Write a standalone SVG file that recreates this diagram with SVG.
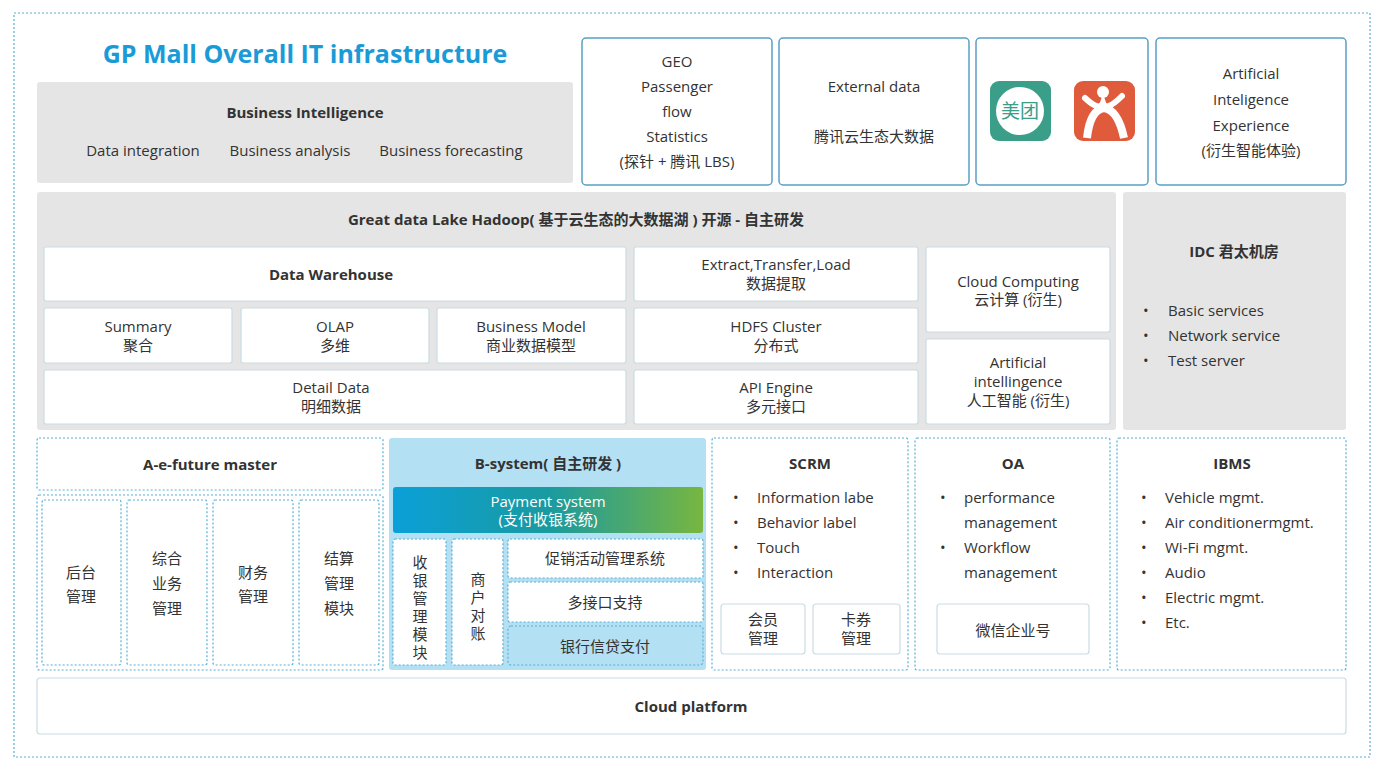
<svg xmlns="http://www.w3.org/2000/svg" width="1386" height="774" viewBox="0 0 1386 774">
<defs>
<style>
text{font-family:"Open Sans","Noto Sans CJK SC",sans-serif;fill:#333;font-size:15px;text-anchor:middle}
.b{font-weight:bold}
.gray{fill:#e5e5e5}
.w{fill:#fff;stroke:#c8dce6;stroke-width:1.2}
.top{fill:#fff;stroke:#5a9ec4;stroke-width:1.5}
.dot{fill:#fff;stroke:#5ab0d6;stroke-width:1.2;stroke-dasharray:2 2}
.l{text-anchor:start}
</style>
<linearGradient id="pg" x1="0" x2="1"><stop offset="0" stop-color="#0aa0d8"/><stop offset="0.5" stop-color="#1a9aa0"/><stop offset="1" stop-color="#78b640"/></linearGradient>
</defs>
<rect width="1386" height="774" fill="#fff"/>
<rect x="14" y="13" width="1356" height="744" fill="none" stroke="#5ab0d6" stroke-width="1.2" stroke-dasharray="2 2"/>
<text x="305" y="63" style="font-size:25px;fill:#1a9bd7" class="b">GP Mall Overall IT infrastructure</text>
<g id="bi"><rect x="37" y="82" width="536" height="101" rx="3" class="gray"/>
<text x="305" y="118" class="b">Business Intelligence</text>
<text x="143" y="156">Data integration</text><text x="290" y="156">Business analysis</text><text x="451" y="156">Business forecasting</text></g>
<g id="geo"><rect x="582" y="38" width="190" height="147" rx="4" class="top"/>
<text x="677" y="67">GEO</text><text x="677" y="92">Passenger</text><text x="677" y="117">flow</text><text x="677" y="142">Statistics</text><text x="677" y="167">(探针 + 腾讯 LBS)</text></g>
<g id="ext"><rect x="779" y="38" width="190" height="147" rx="4" class="top"/>
<text x="874" y="92">External data</text><text x="874" y="142">腾讯云生态大数据</text></g>
<g id="logos"><rect x="976" y="38" width="172" height="147" rx="4" class="top"/>
<rect x="990" y="81" width="61" height="60" rx="9" fill="#3a9e88"/><circle cx="1020" cy="111" r="24" fill="#fff"/>
<text x="1020" y="118" style="font-size:19px;fill:#3a9e88">美团</text>
<rect x="1074" y="81" width="61" height="60" rx="9" fill="#e05a3c"/>
<circle cx="1103" cy="92" r="6" fill="#fff"/>
<path d="M1085 98 Q1100 112 1103 103 Q1106 112 1122 96" stroke="#fff" stroke-width="6" fill="none" stroke-linecap="round"/>
<path d="M1087 138 Q1090 110 1104 108 Q1118 110 1124 138" stroke="#fff" stroke-width="8" fill="none"/></g>
<g id="aie"><rect x="1156" y="38" width="190" height="147" rx="4" class="top"/>
<text x="1251" y="79">Artificial</text><text x="1251" y="105">Inteligence</text><text x="1251" y="131">Experience</text><text x="1251" y="156">(衍生智能体验)</text></g>
<g id="hadoop"><rect x="37" y="192" width="1079" height="238" rx="3" class="gray"/>
<text x="576" y="225" class="b">Great data Lake Hadoop( 基于云生态的大数据湖 ) 开源 - 自主研发</text></g>
<g id="dw"><rect x="44" y="247" width="582" height="54" rx="2" class="w"/><text x="331" y="280" class="b">Data Warehouse</text></g>
<g id="sum"><rect x="44" y="308" width="188" height="55" rx="2" class="w"/><text x="138" y="332">Summary</text><text x="138" y="351">聚合</text></g>
<g id="olap"><rect x="241" y="308" width="188" height="55" rx="2" class="w"/><text x="335" y="332">OLAP</text><text x="335" y="351">多维</text></g>
<g id="bm"><rect x="437" y="308" width="189" height="55" rx="2" class="w"/><text x="531" y="332">Business Model</text><text x="531" y="351">商业数据模型</text></g>
<g id="dd"><rect x="44" y="370" width="582" height="54" rx="2" class="w"/><text x="331" y="393">Detail Data</text><text x="331" y="412">明细数据</text></g>
<g id="etl"><rect x="634" y="247" width="284" height="54" rx="2" class="w"/><text x="776" y="270">Extract,Transfer,Load</text><text x="776" y="289">数据提取</text></g>
<g id="hdfs"><rect x="634" y="308" width="284" height="55" rx="2" class="w"/><text x="776" y="332">HDFS Cluster</text><text x="776" y="351">分布式</text></g>
<g id="api"><rect x="634" y="370" width="284" height="54" rx="2" class="w"/><text x="776" y="393">API Engine</text><text x="776" y="412">多元接口</text></g>
<g id="cc"><rect x="926" y="247" width="184" height="85" rx="2" class="w"/><text x="1018" y="287">Cloud Computing</text><text x="1018" y="305">云计算 (衍生)</text></g>
<g id="ai"><rect x="926" y="339" width="184" height="85" rx="2" class="w"/><text x="1018" y="368">Artificial</text><text x="1018" y="387">intellingence</text><text x="1018" y="406">人工智能 (衍生)</text></g>
<g id="idc"><rect x="1123" y="192" width="223" height="238" rx="3" class="gray"/>
<text x="1234" y="257" class="b">IDC 君太机房</text>
<text x="1143" y="316" class="l">•</text><text x="1168" y="316" class="l">Basic services</text>
<text x="1143" y="341" class="l">•</text><text x="1168" y="341" class="l">Network service</text>
<text x="1143" y="366" class="l">•</text><text x="1168" y="366" class="l">Test server</text></g>
<g id="aef"><rect x="37" y="438" width="346" height="52" rx="2" class="dot"/><text x="210" y="470" class="b">A-e-future master</text>
<rect x="37" y="495" width="346" height="175" rx="2" class="dot"/>
<rect x="42" y="500" width="79" height="165" rx="2" class="dot"/><text x="81" y="578">后台</text><text x="81" y="602">管理</text>
<rect x="127" y="500" width="80" height="165" rx="2" class="dot"/><text x="167" y="564">综合</text><text x="167" y="589">业务</text><text x="167" y="614">管理</text>
<rect x="213" y="500" width="80" height="165" rx="2" class="dot"/><text x="253" y="578">财务</text><text x="253" y="602">管理</text>
<rect x="299" y="500" width="80" height="165" rx="2" class="dot"/><text x="339" y="564">结算</text><text x="339" y="589">管理</text><text x="339" y="614">模块</text></g>
<g id="bsys"><rect x="389" y="438" width="317" height="232" rx="3" fill="#b3e0f2"/>
<text x="548" y="469" class="b">B-system( 自主研发 )</text>
<rect x="393" y="487" width="310" height="46" rx="3" fill="url(#pg)"/>
<text x="548" y="507" style="fill:#fff">Payment system</text><text x="548" y="525" style="fill:#fff">(支付收银系统)</text>
<rect x="393" y="539" width="53" height="126" rx="2" class="dot"/>
<text x="420" y="568">收</text><text x="420" y="586">银</text><text x="420" y="604">管</text><text x="420" y="622">理</text><text x="420" y="640">模</text><text x="420" y="658">块</text>
<rect x="452" y="539" width="51" height="126" rx="2" class="dot"/>
<text x="478" y="585">商</text><text x="478" y="603">户</text><text x="478" y="621">对</text><text x="478" y="639">账</text>
<rect x="508" y="539" width="195" height="39" rx="2" class="dot"/><text x="605" y="564">促销活动管理系统</text>
<rect x="508" y="582" width="195" height="40" rx="2" class="dot"/><text x="605" y="608">多接口支持</text>
<rect x="508" y="626" width="195" height="39" rx="3" class="dot" style="fill:#b3e0f2"/><text x="605" y="652">银行信贷支付</text></g>
<g id="scrm"><rect x="712" y="438" width="196" height="232" rx="2" class="dot"/>
<text x="810" y="469" class="b">SCRM</text>
<text x="733" y="503" class="l">•</text><text x="757" y="503" class="l">Information labe</text>
<text x="733" y="528" class="l">•</text><text x="757" y="528" class="l">Behavior label</text>
<text x="733" y="553" class="l">•</text><text x="757" y="553" class="l">Touch</text>
<text x="733" y="578" class="l">•</text><text x="757" y="578" class="l">Interaction</text>
<rect x="721" y="604" width="84" height="50" rx="3" class="w"/><text x="763" y="625">会员</text><text x="763" y="644">管理</text>
<rect x="813" y="604" width="87" height="50" rx="3" class="w"/><text x="856" y="625">卡券</text><text x="856" y="644">管理</text></g>
<g id="oa"><rect x="915" y="438" width="195" height="232" rx="2" class="dot"/>
<text x="1013" y="469" class="b">OA</text>
<text x="940" y="503" class="l">•</text><text x="964" y="503" class="l">performance</text><text x="964" y="528" class="l">management</text>
<text x="940" y="553" class="l">•</text><text x="964" y="553" class="l">Workflow</text><text x="964" y="578" class="l">management</text>
<rect x="937" y="604" width="152" height="50" rx="3" class="w"/><text x="1013" y="636">微信企业号</text></g>
<g id="ibms"><rect x="1117" y="438" width="229" height="232" rx="2" class="dot"/>
<text x="1232" y="469" class="b">IBMS</text>
<text x="1141" y="503" class="l">•</text><text x="1165" y="503" class="l">Vehicle mgmt.</text>
<text x="1141" y="528" class="l">•</text><text x="1165" y="528" class="l">Air conditionermgmt.</text>
<text x="1141" y="553" class="l">•</text><text x="1165" y="553" class="l">Wi-Fi mgmt.</text>
<text x="1141" y="578" class="l">•</text><text x="1165" y="578" class="l">Audio</text>
<text x="1141" y="603" class="l">•</text><text x="1165" y="603" class="l">Electric mgmt.</text>
<text x="1141" y="628" class="l">•</text><text x="1165" y="628" class="l">Etc.</text></g>
<g id="cloud"><rect x="37" y="678" width="1309" height="56" rx="3" class="w"/><text x="691" y="712" class="b">Cloud platform</text></g>
<g id="connectors"></g>
</svg>
